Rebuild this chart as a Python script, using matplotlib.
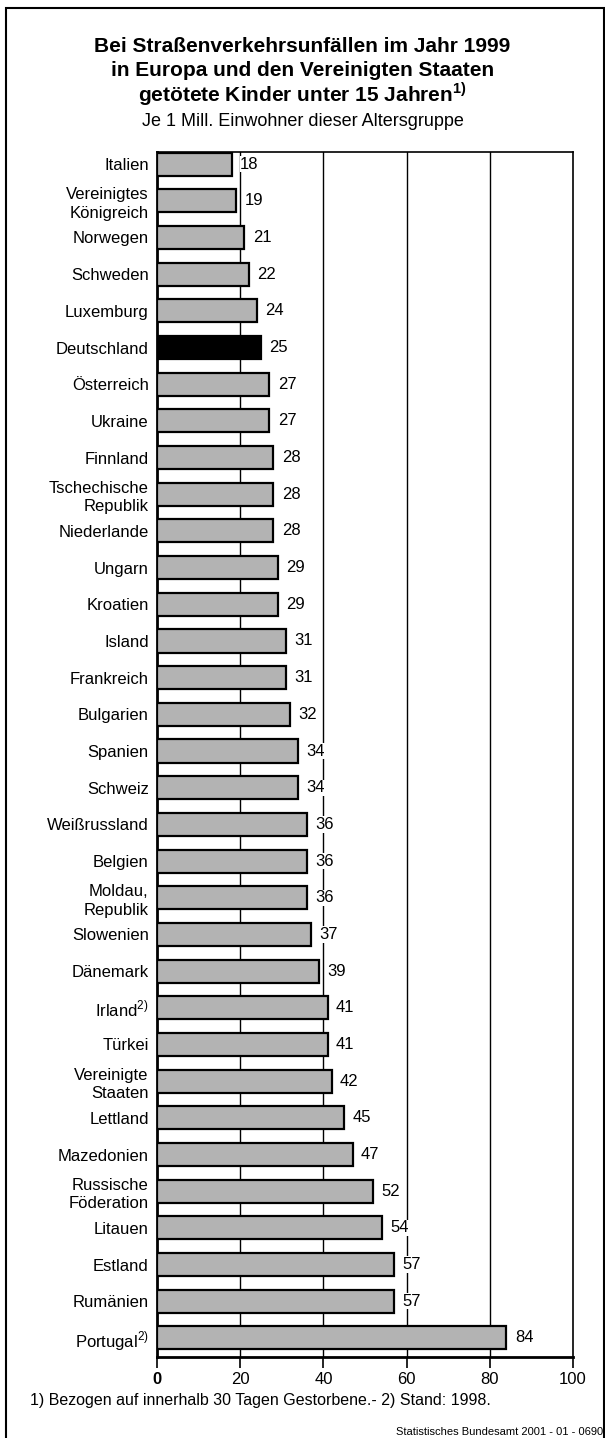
import matplotlib.pyplot as plt
from matplotlib.patches import Rectangle

plt.rcParams['font.family'] = ['Liberation Sans', 'DejaVu Sans']
plt.rcParams['mathtext.fontset'] = 'custom'
plt.rcParams['mathtext.rm'] = 'Liberation Sans'

laender = ["Italien", "Vereinigtes\nKönigreich", "Norwegen", "Schweden", "Luxemburg",
           "Deutschland", "Österreich", "Ukraine", "Finnland", "Tschechische\nRepublik",
           "Niederlande", "Ungarn", "Kroatien", "Island", "Frankreich", "Bulgarien",
           "Spanien", "Schweiz", "Weißrussland", "Belgien", "Moldau,\nRepublik",
           "Slowenien", "Dänemark", r"Irland$^{\mathregular{2)}}$", "Türkei",
           "Vereinigte\nStaaten", "Lettland", "Mazedonien", "Russische\nFöderation",
           "Litauen", "Estland", "Rumänien", r"Portugal$^{\mathregular{2)}}$"]
getoetete = [18, 19, 21, 22, 24, 25, 27, 27, 28, 28, 28, 29, 29, 31, 31, 32, 34, 34,
             36, 36, 36, 37, 39, 41, 41, 42, 45, 47, 52, 54, 57, 57, 84]

fig = plt.figure(figsize=(6.05, 14.38), dpi=100)
ax = fig.add_axes([157 / 605, 1 - 1357 / 1438, 416 / 605, 1205 / 1438])

farben = ['black' if l == "Deutschland" else '#b3b3b3' for l in laender]
pos = list(range(len(laender)))
ax.barh(pos, getoetete, height=0.63, color=farben, edgecolor='black', linewidth=1.6, zorder=3)

for x in [20, 40, 60, 80]:
    ax.axvline(x, color='black', linewidth=1.0, zorder=1)

for p, v in zip(pos, getoetete):
    ax.text(v + 2.0, p, str(v), va='center', ha='left', fontsize=12, zorder=4,
            bbox=dict(facecolor='white', edgecolor='none', pad=0.5))

ax.set_ylim(32.52, -0.33)
ax.set_xlim(0, 100)
ax.set_yticks(pos)
ax.set_yticklabels(laender, fontsize=12, linespacing=1.3)
ax.tick_params(axis='y', length=0, pad=6)
ax.set_xticks([0, 20, 40, 60, 80, 100])
ax.set_xticklabels(['0', '20', '40', '60', '80', '100'], fontsize=12)
ax.get_xticklabels()[0].set_fontweight('bold')
ax.tick_params(axis='x', direction='out', length=8, width=1.2, pad=3)
ax.spines['left'].set_linewidth(2)
ax.spines['bottom'].set_linewidth(2)
ax.spines['top'].set_linewidth(1.2)
ax.spines['right'].set_linewidth(1.2)

fig.text(0.5, 1 - 46 / 1438, "Bei Straßenverkehrsunfällen im Jahr 1999", ha='center', va='center',
         fontsize=15, fontweight='bold')
fig.text(0.5, 1 - 70 / 1438, "in Europa und den Vereinigten Staaten", ha='center', va='center',
         fontsize=15, fontweight='bold')
fig.text(0.5, 1 - 94 / 1438, r"getötete Kinder unter 15 Jahren$^{\mathregular{1)}}$", ha='center',
         va='center', fontsize=15, fontweight='bold')
fig.text(0.5, 1 - 122 / 1438, "Je 1 Mill. Einwohner dieser Altersgruppe", ha='center', va='center',
         fontsize=13)
fig.text(30 / 605, 1 - 1400 / 1438, "1) Bezogen auf innerhalb 30 Tagen Gestorbene.- 2) Stand: 1998.",
         ha='left', va='center', fontsize=11.5)
fig.text(603 / 605, 1 - 1432 / 1438, "Statistisches Bundesamt 2001 - 01 - 0690", ha='right',
         va='center', fontsize=8)

# Rahmen um die Grafik
fig.add_artist(Rectangle((6 / 605, -0.01), 598 / 605, 1 - 8 / 1438 + 0.01, transform=fig.transFigure,
                         fill=False, edgecolor='black', linewidth=1.5))

fig.savefig('out.png', dpi=100)
